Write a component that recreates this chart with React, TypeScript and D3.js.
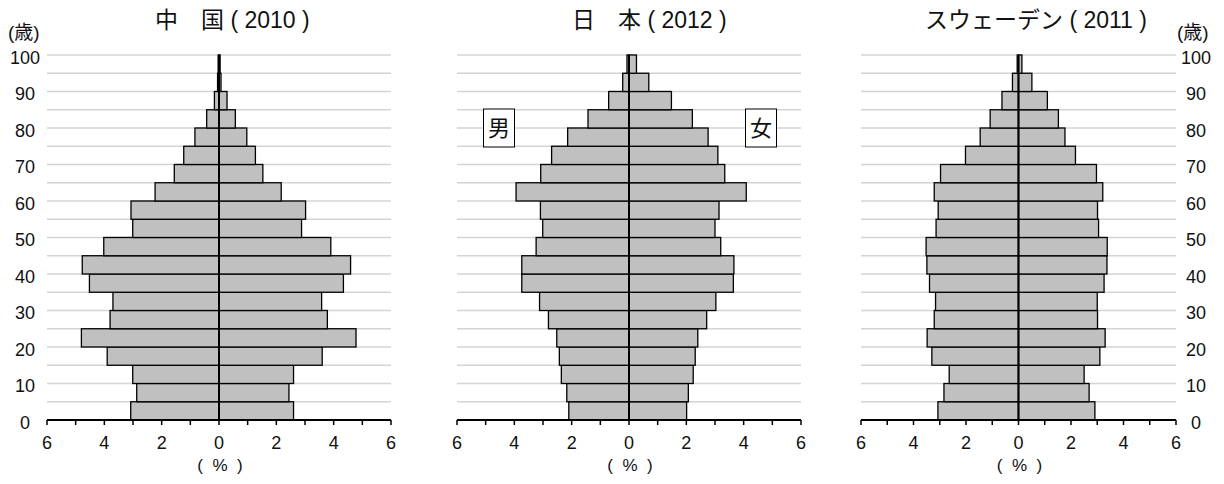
import React from "react";
import * as d3 from "d3";

const ageGroups = ["0-4","5-9","10-14","15-19","20-24","25-29","30-34","35-39","40-44","45-49","50-54","55-59","60-64","65-69","70-74","75-79","80-84","85-89","90-94","95-99"];
const ageTicks = [0, 10, 20, 30, 40, 50, 60, 70, 80, 90, 100];
const gridAges = [5, 10, 15, 20, 25, 30, 35, 40, 45, 50, 55, 60, 65, 70, 75, 80, 85, 90, 95, 100];
const pctTicks = [-6, -5, -4, -3, -2, -1, 0, 1, 2, 3, 4, 5, 6];
const pctLabels = [-6, -4, -2, 0, 2, 4, 6];

const chinaMale = [3.08, 2.87, 3.01, 3.90, 4.80, 3.80, 3.70, 4.52, 4.77, 4.02, 3.01, 3.07, 2.23, 1.56, 1.23, 0.84, 0.43, 0.16, 0.05, 0.03];
const chinaFemale = [2.60, 2.44, 2.60, 3.60, 4.78, 3.78, 3.58, 4.34, 4.59, 3.90, 2.88, 3.02, 2.17, 1.53, 1.27, 0.97, 0.57, 0.28, 0.07, 0.04];
const japanMale = [2.10, 2.17, 2.36, 2.43, 2.52, 2.81, 3.12, 3.74, 3.74, 3.24, 3.01, 3.09, 3.94, 3.08, 2.70, 2.14, 1.43, 0.71, 0.22, 0.07];
const japanFemale = [2.01, 2.07, 2.24, 2.31, 2.40, 2.71, 3.03, 3.64, 3.66, 3.20, 3.00, 3.14, 4.09, 3.34, 3.10, 2.76, 2.21, 1.48, 0.69, 0.26];
const swedenMale = [3.07, 2.84, 2.64, 3.30, 3.48, 3.21, 3.16, 3.39, 3.49, 3.52, 3.14, 3.06, 3.21, 2.97, 2.02, 1.46, 1.08, 0.63, 0.23, 0.05];
const swedenFemale = [2.91, 2.69, 2.50, 3.10, 3.30, 3.01, 3.00, 3.26, 3.37, 3.38, 3.05, 3.01, 3.21, 2.97, 2.17, 1.77, 1.52, 1.10, 0.51, 0.13];

const FONT = "'Liberation Sans', Arial, 'Noto Sans CJK JP', sans-serif";
const CJK = "'Noto Sans CJK JP', 'Liberation Sans', sans-serif";

const yScale = d3.scaleLinear().domain([0, 100]).range([420, 55]);

type PanelProps = {
  x0: number; x1: number;
  male: number[]; female: number[];
  title: string; titleX: number;
  axisSide: "left" | "right" | "none";
  labelX: number;
  showSex?: boolean;
};

function Panel({ x0, x1, male, female, title, titleX, axisSide, labelX, showSex }: PanelProps) {
  const x = d3.scaleLinear().domain([-6, 6]).range([x0, x1]);
  const band = d3.scaleBand().domain(ageGroups).range([420, 55]).padding(0);
  const cx = x(0);
  return (
    <g>
      <text x={titleX} y={28} fontSize={23} fontFamily={FONT} fill="#111" xmlSpace="preserve" style={{ whiteSpace: "pre" }}>{title}</text>
      {gridAges.map((a) => (
        <line key={"g" + a} x1={x0} x2={x1} y1={yScale(a)} y2={yScale(a)} stroke="#d4d4d4" strokeWidth={1.5} />
      ))}
      {showSex && (
        <g>
          <rect x={483.5} y={109} width={31} height={38} fill="#fff" stroke="#000" strokeWidth={1} />
          <text x={499} y={136} textAnchor="middle" fontSize={22} fontFamily={CJK} fill="#111">男</text>
          <rect x={745.5} y={109} width={31} height={38} fill="#fff" stroke="#000" strokeWidth={1} />
          <text x={761} y={136} textAnchor="middle" fontSize={22} fontFamily={CJK} fill="#111">女</text>
        </g>
      )}
      {ageGroups.map((g, i) => (
        <rect key={"m" + g} x={x(-male[i])} y={band(g)!} width={cx - x(-male[i])} height={band.bandwidth()}
          fill="#c0c0c0" stroke="#000" strokeWidth={1.3} />
      ))}
      {ageGroups.map((g, i) => (
        <rect key={"f" + g} x={cx} y={band(g)!} width={x(female[i]) - cx} height={band.bandwidth()}
          fill="#c0c0c0" stroke="#000" strokeWidth={1.3} />
      ))}
      <line x1={cx} x2={cx} y1={55} y2={420} stroke="#000" strokeWidth={2} />
      <line x1={x0} x2={x1} y1={420} y2={420} stroke="#000" strokeWidth={2} />
      {pctTicks.map((t) => (
        <line key={"t" + t} x1={x(t)} x2={x(t)} y1={420} y2={425} stroke="#000" strokeWidth={1.5} />
      ))}
      {pctLabels.map((t) => (
        <text key={"l" + t} x={x(t)} y={449} textAnchor="middle" fontSize={18} fontFamily={FONT} fill="#111">{Math.abs(t)}</text>
      ))}
      <text x={cx + 1} y={471} textAnchor="middle" fontSize={17} fontFamily={FONT} fill="#111" xmlSpace="preserve" style={{ whiteSpace: "pre" }}>{"(  %  )"}</text>
      {axisSide !== "none" && ageTicks.map((a) => (
        <text key={"a" + a} x={labelX} y={yScale(a) + 8.5} textAnchor="middle" fontSize={18} fontFamily={FONT} fill="#111">{a}</text>
      ))}
      {axisSide !== "none" && (
        <text x={axisSide === "left" ? 8 : 1177} y={39} fontSize={19} fontFamily={FONT} fill="#111">(歳)</text>
      )}
    </g>
  );
}

export default function App() {
  return (
    <svg width={1224} height={484} style={{ position: "absolute", left: 0, top: 0, background: "#fff" }}>
      <rect x={0} y={0} width={1224} height={484} fill="#fff" />
      <Panel x0={47} x1={391} male={chinaMale} female={chinaFemale} title={"中　国 ( 2010 )"} titleX={155} axisSide="left" labelX={25} />
      <Panel x0={457} x1={801} male={japanMale} female={japanFemale} title={"日　本 ( 2012 )"} titleX={572} axisSide="none" labelX={0} showSex />
      <Panel x0={861} x1={1176} male={swedenMale} female={swedenFemale} title={"スウェーデン ( 2011 )"} titleX={925} axisSide="right" labelX={1196} />
    </svg>
  );
}
